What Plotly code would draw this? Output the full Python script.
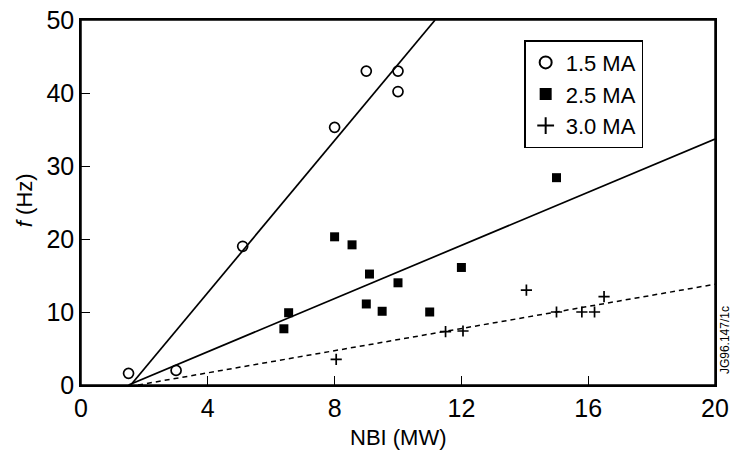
import plotly.graph_objects as go

# 1.5 MA (open circles)
x15 = [1.5, 3.0, 5.1, 8.0, 9.0, 10.0, 10.0]
y15 = [1.6, 2.0, 19.0, 35.3, 43.0, 43.0, 40.2]
# 2.5 MA (filled squares)
x25 = [6.4, 6.55, 8.0, 8.55, 9.0, 9.1, 9.5, 10.0, 11.0, 12.0, 15.0]
y25 = [7.7, 9.9, 20.3, 19.2, 11.1, 15.2, 10.1, 14.0, 10.0, 16.1, 28.4]
# 3.0 MA (plus)
x30 = [8.05, 11.5, 12.05, 14.05, 15.0, 15.8, 16.2, 16.5]
y30 = [3.5, 7.3, 7.4, 13.0, 10.0, 10.0, 10.0, 12.1]

# fitted lines (end points)
fit15_x = [1.57, 11.17]
fit15_y = [0.0, 50.0]
fit25_x = [1.5, 20.0]
fit25_y = [0.0, 33.7]
fit30_x = [1.8, 20.0]
fit30_y = [0.0, 13.8]

x_ticks = [0, 4, 8, 12, 16, 20]
y_ticks = [0, 10, 20, 30, 40, 50]

FONT = "Liberation Sans, Arial, sans-serif"

fig = go.Figure()
fig.add_trace(go.Scatter(x=fit15_x, y=fit15_y, mode="lines", showlegend=False,
                         line=dict(color="black", width=1.7)))
fig.add_trace(go.Scatter(x=fit25_x, y=fit25_y, mode="lines", showlegend=False,
                         line=dict(color="black", width=1.7)))
fig.add_trace(go.Scatter(x=fit30_x, y=fit30_y, mode="lines", showlegend=False,
                         line=dict(color="black", width=1.5, dash="5px,4px")))

fig.add_trace(go.Scatter(x=x15, y=y15, mode="markers", name="1.5 MA",
                         marker=dict(symbol="circle-open", size=10, color="black",
                                     line=dict(width=1.7, color="black"))))
fig.add_trace(go.Scatter(x=x25, y=y25, mode="markers", name="2.5 MA",
                         marker=dict(symbol="square", size=9, color="black")))
fig.add_trace(go.Scatter(x=x30, y=y30, mode="markers", name="3.0 MA",
                         marker=dict(symbol="cross-thin", size=8, color="black",
                                     line=dict(width=1.7, color="black"))))

axis_common = dict(showgrid=False, zeroline=False, showline=True, linecolor="black",
                   linewidth=1.5, mirror=True, ticks="inside", ticklen=9,
                   tickcolor="black", tickwidth=1.4, automargin=False,
                   tickfont=dict(family=FONT, size=25, color="black"))

fig.update_xaxes(range=[0, 20], tickvals=x_ticks, ticktext=[str(v) for v in x_ticks],
                 **axis_common)
fig.update_yaxes(range=[0, 50], tickvals=y_ticks, ticktext=[str(v) for v in y_ticks],
                 **axis_common)

fig.update_layout(
    width=731, height=457,
    margin=dict(l=81, r=16, t=20, b=72, autoexpand=False),
    paper_bgcolor="white", plot_bgcolor="white",
    font=dict(family=FONT, color="black"),
    legend=dict(x=0.699, y=0.945, xanchor="left", yanchor="top",
                bordercolor="black", borderwidth=1.5, bgcolor="white",
                font=dict(family=FONT, size=22, color="black"),
                tracegroupgap=0, itemsizing="constant"),
    shapes=[dict(type="rect", xref="paper", yref="paper", x0=0, x1=1, y0=0, y1=1,
                 line=dict(color="black", width=1.5), layer="above")],
    annotations=[
        dict(text="NBI (MW)", x=0.5, y=-0.145, xref="paper", yref="paper",
             showarrow=False, xanchor="center", yanchor="middle",
             font=dict(family=FONT, size=22, color="black")),
        dict(text="<i>f</i> (Hz)", x=-0.088, y=0.507, xref="paper", yref="paper",
             showarrow=False, textangle=-90, xanchor="center", yanchor="middle",
             font=dict(family=FONT, size=22, color="black")),
        dict(text="JG96.147/1c", x=1.0, y=0.123, xref="paper", yref="paper",
             showarrow=False, textangle=-90, xanchor="left", yanchor="middle",
             xshift=1, font=dict(family=FONT, size=12, color="black")),
    ],
)

fig.write_html("out.html", config={"displayModeBar": False},
               post_script="document.body.style.margin='0';document.body.style.overflow='hidden';")
